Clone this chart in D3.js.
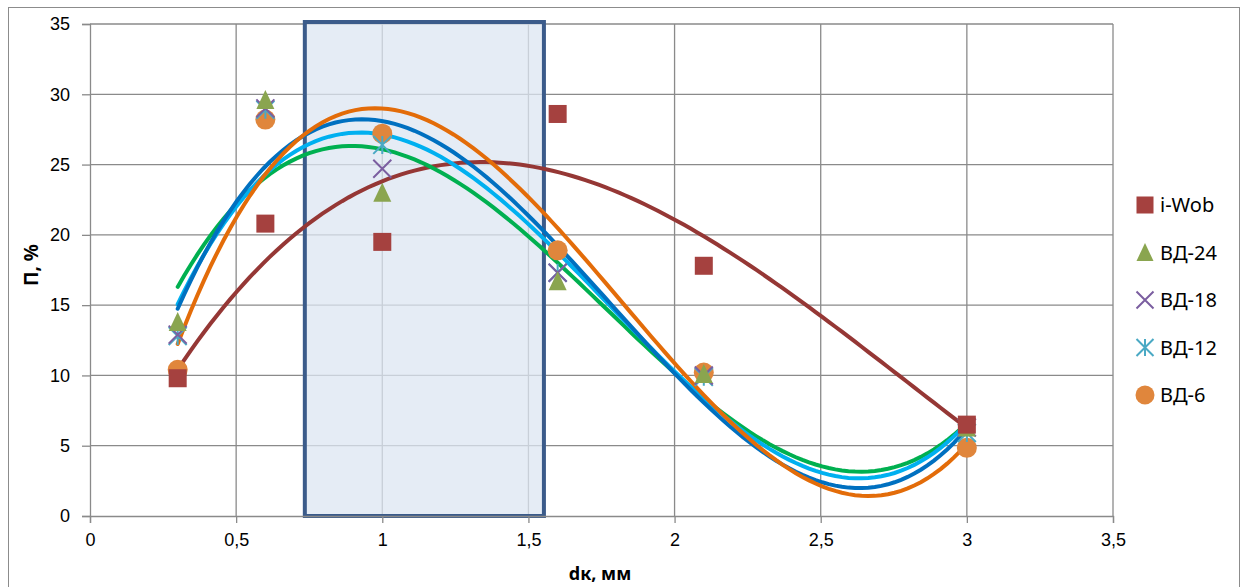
<!DOCTYPE html>
<html>
<head>
<meta charset="utf-8">
<script src="https://cdn.jsdelivr.net/npm/d3@7"></script>
<style>
  body { margin: 0; background: #fff; }
  svg { display: block; font-family: "Noto Sans", "Open Sans", sans-serif; }
</style>
</head>
<body>
<div id="chart"></div>
<script>
// x values (dк, мм) shared by every series
const xValues = [0.3, 0.6, 1, 1.6, 2.1, 3];

// П, % per series
const iWob = [9.8, 20.8, 19.5, 28.6, 17.8, 6.5];
const vd24 = [13.8, 29.6, 23.0, 16.7, 10.1, 6.3];
const vd18 = [12.9, 29.0, 24.7, 17.3, 10.0, 6.3];
const vd12 = [12.8, 28.9, 26.4, 17.3, 9.9, 5.9];
const vd6 = [10.4, 28.2, 27.2, 18.9, 10.2, 4.85];

const seriesNames = ["i-Wob", "ВД-24", "ВД-18", "ВД-12", "ВД-6"];
const seriesValues = [iWob, vd24, vd18, vd12, vd6];
const markerTypes = ["square", "triangle", "cross", "star", "circle"];
const markerColors = ["#a5413f", "#8aa54f", "#7b5ea0", "#4aa9c4", "#e0863c"];
const trendColors = ["#953735", "#00b050", "#00b0f0", "#0070c0", "#e36c09"];

const xTicks = [0, 0.5, 1, 1.5, 2, 2.5, 3, 3.5];
const yTicks = [0, 5, 10, 15, 20, 25, 30, 35];

// highlighted dк range
const boxRange = [0.735, 1.553];

const width = 1248, height = 587;
const plot = { left: 90, right: 1113, top: 24, bottom: 516 };

const svg = d3.select("#chart").append("svg")
  .attr("width", width)
  .attr("height", height);

// outer frame of the chart
svg.append("rect")
  .attr("x", 8.5).attr("y", 7.5)
  .attr("width", 1231).attr("height", 600)
  .attr("fill", "none")
  .attr("stroke", "#8c8c8c");

const x = d3.scaleLinear().domain([0, 3.5]).range([plot.left, plot.right]);
const y = d3.scaleLinear().domain([0, 35]).range([plot.bottom, plot.top]);

// gridlines
svg.append("g")
  .selectAll("line")
  .data(yTicks.slice(1))
  .join("line")
    .attr("x1", plot.left).attr("x2", plot.right)
    .attr("y1", d => y(d)).attr("y2", d => y(d))
    .attr("stroke", "#8a8a8a").attr("stroke-width", 1.3);

svg.append("g")
  .selectAll("line")
  .data(xTicks.slice(1))
  .join("line")
    .attr("x1", d => x(d)).attr("x2", d => x(d))
    .attr("y1", plot.top).attr("y2", plot.bottom)
    .attr("stroke", "#8a8a8a").attr("stroke-width", 1.3);

// highlighted box
svg.append("rect")
  .attr("x", x(boxRange[0]))
  .attr("y", y(35) - 2)
  .attr("width", x(boxRange[1]) - x(boxRange[0]))
  .attr("height", y(0) - y(35) + 2)
  .attr("fill", "#dce6f2")
  .attr("fill-opacity", 0.75)
  .attr("stroke", "#3b5b8a")
  .attr("stroke-width", 4);

// axes
const xAxis = svg.append("g")
  .attr("transform", `translate(0,${plot.bottom})`)
  .call(d3.axisBottom(x).tickValues(xTicks).tickSize(7)
    .tickFormat(d => String(d).replace(".", ",")));
xAxis.select(".domain").attr("stroke", "#8a8a8a").attr("stroke-width", 1.3);
xAxis.selectAll(".tick line").attr("stroke", "#8a8a8a").attr("stroke-width", 1.3);
xAxis.selectAll("text")
  .attr("dy", "1.1em")
  .style("font-size", "18px")
  .attr("fill", "#000");

const yAxis = svg.append("g")
  .attr("transform", `translate(${plot.left},0)`)
  .call(d3.axisLeft(y).tickValues(yTicks).tickSize(8).tickPadding(12));
yAxis.select(".domain").attr("stroke", "#8a8a8a").attr("stroke-width", 1.3);
yAxis.selectAll(".tick line").attr("stroke", "#8a8a8a").attr("stroke-width", 1.3);
yAxis.selectAll("text")
  .style("font-size", "18px")
  .attr("fill", "#000");

// axis titles
svg.append("text")
  .attr("x", 600).attr("y", 580)
  .attr("text-anchor", "middle")
  .style("font-size", "18px").style("font-weight", "bold")
  .text("dк, мм");

svg.append("text")
  .attr("transform", "translate(38,265) rotate(-90)")
  .attr("text-anchor", "middle")
  .style("font-size", "19px").style("font-weight", "bold")
  .text("П, %");

// cubic least-squares trendline, like the spreadsheet's polynomial trend
function cubicFit(xs, ys) {
  const n = 4;
  const A = [];
  for (let i = 0; i < n; i++) {
    A.push([]);
    for (let j = 0; j <= n; j++) A[i].push(0);
  }
  xs.forEach((xv, k) => {
    for (let i = 0; i < n; i++) {
      for (let j = 0; j < n; j++) A[i][j] += Math.pow(xv, i + j);
      A[i][n] += ys[k] * Math.pow(xv, i);
    }
  });
  for (let c = 0; c < n; c++) {
    let p = c;
    for (let r = c + 1; r < n; r++) if (Math.abs(A[r][c]) > Math.abs(A[p][c])) p = r;
    [A[c], A[p]] = [A[p], A[c]];
    for (let r = 0; r < n; r++) {
      if (r === c) continue;
      const f = A[r][c] / A[c][c];
      for (let j = c; j <= n; j++) A[r][j] -= f * A[c][j];
    }
  }
  const coef = A.map((row, i) => row[n] / row[i]);
  return xv => coef[0] + coef[1] * xv + coef[2] * xv * xv + coef[3] * xv * xv * xv;
}

const line = d3.line().x(d => x(d[0])).y(d => y(d[1])).curve(d3.curveLinear);

// draw order: i-Wob trend first, orange last on top
const trendOrder = [0, 1, 2, 3, 4];
trendOrder.forEach(s => {
  const f = cubicFit(xValues, seriesValues[s]);
  const pts = d3.range(0, 121).map(i => {
    const xv = 0.3 + (2.7 * i) / 120;
    return [xv, f(xv)];
  });
  svg.append("path")
    .attr("d", line(pts))
    .attr("fill", "none")
    .attr("stroke", trendColors[s])
    .attr("stroke-width", 4)
    .attr("stroke-linecap", "round");
});

// marker drawing
function drawMarker(g, type, color, cx, cy, size) {
  const h = size / 2;
  if (type === "square") {
    g.append("rect").attr("x", cx - h).attr("y", cy - h)
      .attr("width", size).attr("height", size).attr("fill", color);
  } else if (type === "triangle") {
    g.append("path")
      .attr("d", `M${cx},${cy - h - 1}L${cx + h},${cy + h}L${cx - h},${cy + h}Z`)
      .attr("fill", color);
  } else if (type === "cross") {
    g.append("path")
      .attr("d", `M${cx - h},${cy - h}L${cx + h},${cy + h}M${cx - h},${cy + h}L${cx + h},${cy - h}`)
      .attr("stroke", color).attr("stroke-width", 2);
  } else if (type === "star") {
    g.append("path")
      .attr("d", `M${cx - h},${cy - h}L${cx + h},${cy + h}M${cx - h},${cy + h}L${cx + h},${cy - h}M${cx},${cy - h}L${cx},${cy + h}`)
      .attr("stroke", color).attr("stroke-width", 2);
  } else {
    g.append("circle").attr("cx", cx).attr("cy", cy).attr("r", h + 1).attr("fill", color);
  }
}

// data markers: draw from last series to first so squares sit on top like the picture
const markerG = svg.append("g");
[4, 3, 2, 1, 0].forEach(s => {
  seriesValues[s].forEach((v, i) => {
    drawMarker(markerG, markerTypes[s], markerColors[s], x(xValues[i]), y(v), 18);
  });
});

// legend
const legend = svg.append("g");
seriesNames.forEach((name, i) => {
  const ly = 205 + i * 47.5;
  drawMarker(legend, markerTypes[i], markerColors[i], 1145, ly, 17);
  legend.append("text")
    .attr("x", 1160).attr("y", ly)
    .attr("dy", "0.35em")
    .style("font-size", "20px")
    .text(name);
});
</script>
</body>
</html>
